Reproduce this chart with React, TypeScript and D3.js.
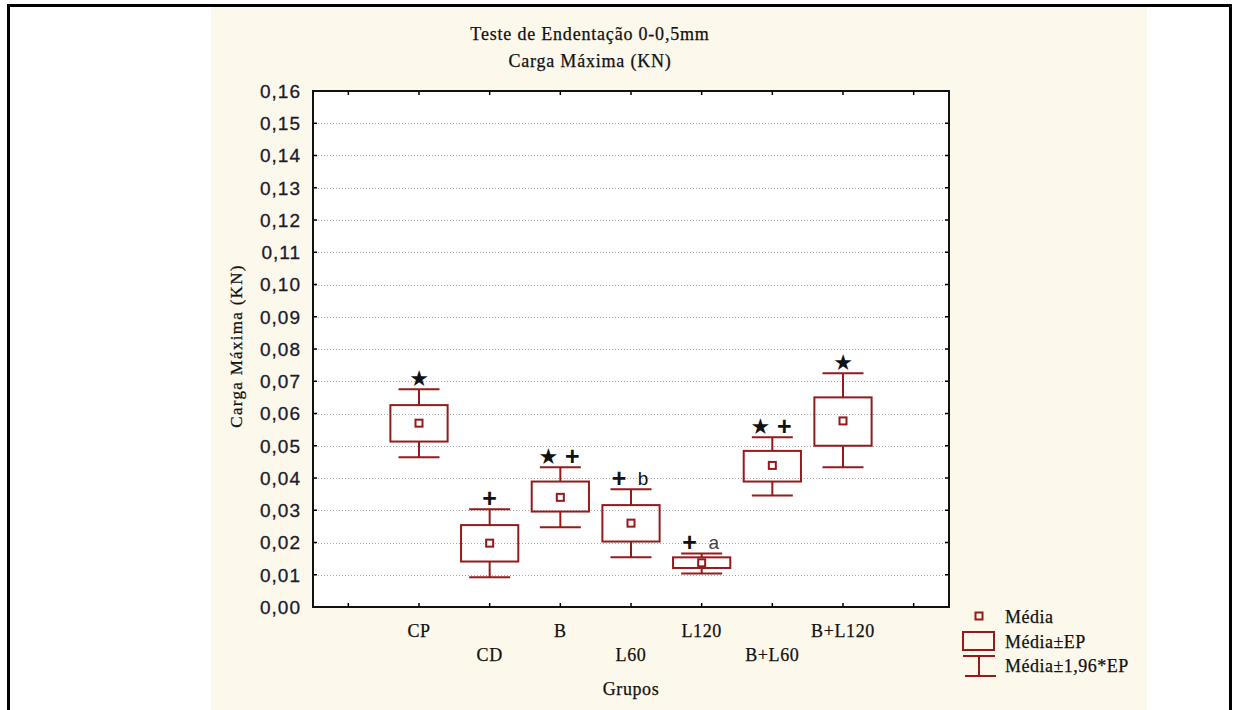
import React from "react";
import * as d3 from "d3";

const groups = ["CP", "CD", "B", "L60", "L120", "B+L60", "B+L120"];
const means = [0.057, 0.0198, 0.034, 0.026, 0.0137, 0.0439, 0.0577];
const boxTop = [0.0626, 0.0254, 0.0389, 0.0316, 0.0154, 0.0484, 0.065];
const boxBottom = [0.0513, 0.0141, 0.0296, 0.0203, 0.0121, 0.0389, 0.05];
const whiskerTop = [0.0675, 0.0303, 0.0433, 0.0365, 0.0166, 0.0526, 0.0725];
const whiskerBottom = [0.0464, 0.0092, 0.0247, 0.0154, 0.0104, 0.0346, 0.0433];
const marks = [["★"], ["+"], ["★", "+"], ["+", "b"], ["+", "a"], ["★", "+"], ["★"]];
const yTicks = d3.range(0, 0.1601, 0.01);
const xTicks = [1, 2, 3, 4, 5, 6, 7, 8, 9];
const legendItems = ["Média", "Média±EP", "Média±1,96*EP"];

const W = 1233;
const H = 710;
const plot = { left: 313, right: 949, top: 91, bottom: 607 };
const RED = "#951b1b";
const SERIF = "'Liberation Serif', 'Times New Roman', serif";
const SANS = "'Liberation Sans', Arial, sans-serif";

export default function App() {
  const y = d3.scaleLinear().domain([0, 0.16]).range([plot.bottom, plot.top]);
  const x = d3.scaleLinear().domain([0.5, 9.5]).range([plot.left, plot.right]);
  const step = x(2) - x(1);
  const boxW = step * 0.81;
  const capW = step * 0.58;
  const fmt = (v: number) => d3.format(".2f")(v).replace(".", ",");
  const tick = 4;
  const serifText = { fontFamily: SERIF, fill: "#111", stroke: "#111", strokeWidth: 0.25 } as const;

  return (
    <svg width={W} height={H} style={{ position: "absolute", left: 0, top: 0 }}>
      <rect x={0} y={0} width={W} height={H} fill="#ffffff" />
      <rect x={211} y={7} width={936} height={H} fill="#fdf8ec" />
      <rect x={8.5} y={5.5} width={1222} height={H + 20} fill="none" stroke="#000" strokeWidth={3} />

      {/* title */}
      <text x={590} y={40} textAnchor="middle" fontSize={18} letterSpacing={0.8} {...serifText}>
        Teste de Endentação 0-0,5mm
      </text>
      <text x={590} y={67} textAnchor="middle" fontSize={18} letterSpacing={0.8} {...serifText}>
        Carga Máxima (KN)
      </text>

      {/* plot area */}
      <rect x={plot.left} y={plot.top} width={plot.right - plot.left} height={plot.bottom - plot.top} fill="#ffffff" />

      {/* grid */}
      {yTicks.filter((t) => t > 0.001 && t < 0.159).map((t, i) => (
        <line key={"g" + i} x1={plot.left + 2} x2={plot.right - 2} y1={Math.round(y(t)) + 0.5} y2={Math.round(y(t)) + 0.5}
          stroke="#aaaaaa" strokeWidth={1} strokeDasharray="1,2" />
      ))}

      {/* axis ticks */}
      {yTicks.map((t, i) => (
        <g key={"yt" + i}>
          <line x1={plot.left} x2={plot.left + tick} y1={y(t)} y2={y(t)} stroke="#000" strokeWidth={1.5} />
          <line x1={plot.right} x2={plot.right - tick} y1={y(t)} y2={y(t)} stroke="#000" strokeWidth={1.5} />
          <text x={301} y={y(t)} dy="0.36em" textAnchor="end" fontFamily={SANS} fontSize={19} letterSpacing={1}
            fill="#1b1b2e" stroke="#1b1b2e" strokeWidth={0.3}>
            {fmt(t)}
          </text>
        </g>
      ))}
      {xTicks.map((t) => (
        <g key={"xt" + t}>
          <line x1={x(t)} x2={x(t)} y1={plot.bottom} y2={plot.bottom - tick} stroke="#000" strokeWidth={1.5} />
          <line x1={x(t)} x2={x(t)} y1={plot.top} y2={plot.top + tick} stroke="#000" strokeWidth={1.5} />
        </g>
      ))}

      {/* frame */}
      <rect x={plot.left} y={plot.top} width={plot.right - plot.left} height={plot.bottom - plot.top}
        fill="none" stroke="#111" strokeWidth={2} />

      {/* boxes */}
      {groups.map((g, i) => {
        const cx = x(i + 2);
        return (
          <g key={"b" + g} stroke={RED} strokeWidth={2} fill="none">
            <line x1={cx} x2={cx} y1={y(whiskerTop[i])} y2={y(boxTop[i])} />
            <line x1={cx} x2={cx} y1={y(boxBottom[i])} y2={y(whiskerBottom[i])} />
            <line x1={cx - capW / 2} x2={cx + capW / 2} y1={y(whiskerTop[i])} y2={y(whiskerTop[i])} />
            <line x1={cx - capW / 2} x2={cx + capW / 2} y1={y(whiskerBottom[i])} y2={y(whiskerBottom[i])} />
            <rect x={cx - boxW / 2} y={y(boxTop[i])} width={boxW} height={y(boxBottom[i]) - y(boxTop[i])} />
            <rect x={cx - 3.5} y={y(means[i]) - 3.5} width={7} height={7} fill="#fff" />
          </g>
        );
      })}

      {/* annotations */}
      {groups.map((g, i) => {
        const cx = x(i + 2);
        const cy = y(whiskerTop[i]) - 11;
        const m = marks[i];
        return m.map((s, k) => {
          const dx = m.length === 1 ? 0 : k === 0 ? -12 : 12;
          const isStar = s === "★";
          const isPlus = s === "+";
          return (
            <text key={"m" + i + k} x={cx + dx} y={cy} dy={isStar ? "0.36em" : isPlus ? "0.34em" : "0.36em"}
              textAnchor="middle"
              fontFamily={isStar ? "'DejaVu Sans', sans-serif" : SANS}
              fontWeight={isPlus ? "bold" : "normal"}
              fontSize={isStar ? 22 : isPlus ? 25 : 19}
              fill={s === "a" ? "#444" : "#111"}>
              {s}
            </text>
          );
        });
      })}

      {/* x labels */}
      {groups.map((g, i) => (
        <text key={"xl" + g} x={x(i + 2)} y={i % 2 === 0 ? 637 : 661} textAnchor="middle"
          fontSize={18} letterSpacing={0.6} {...serifText}>
          {g}
        </text>
      ))}
      <text x={631} y={695} textAnchor="middle" fontSize={18} letterSpacing={0.6} {...serifText}>
        Grupos
      </text>

      {/* y label */}
      <text transform="translate(242,346) rotate(-90)" textAnchor="middle" fontSize={17}
        letterSpacing={1.3} {...serifText}>
        Carga Máxima (KN)
      </text>

      {/* legend */}
      <g stroke={RED} strokeWidth={2} fill="none">
        <rect x={975.5} y={612.5} width={7} height={7} />
        <rect x={963} y={632} width={31} height={18} />
        <line x1={963} x2={995} y1={656} y2={656} />
        <line x1={979} x2={979} y1={656} y2={676} />
        <line x1={965} x2={996} y1={676} y2={676} />
      </g>
      {legendItems.map((t, i) => (
        <text key={"lg" + i} x={1005} y={[623, 648, 672][i]} fontSize={18} letterSpacing={0.5} {...serifText}>
          {t}
        </text>
      ))}
    </svg>
  );
}
